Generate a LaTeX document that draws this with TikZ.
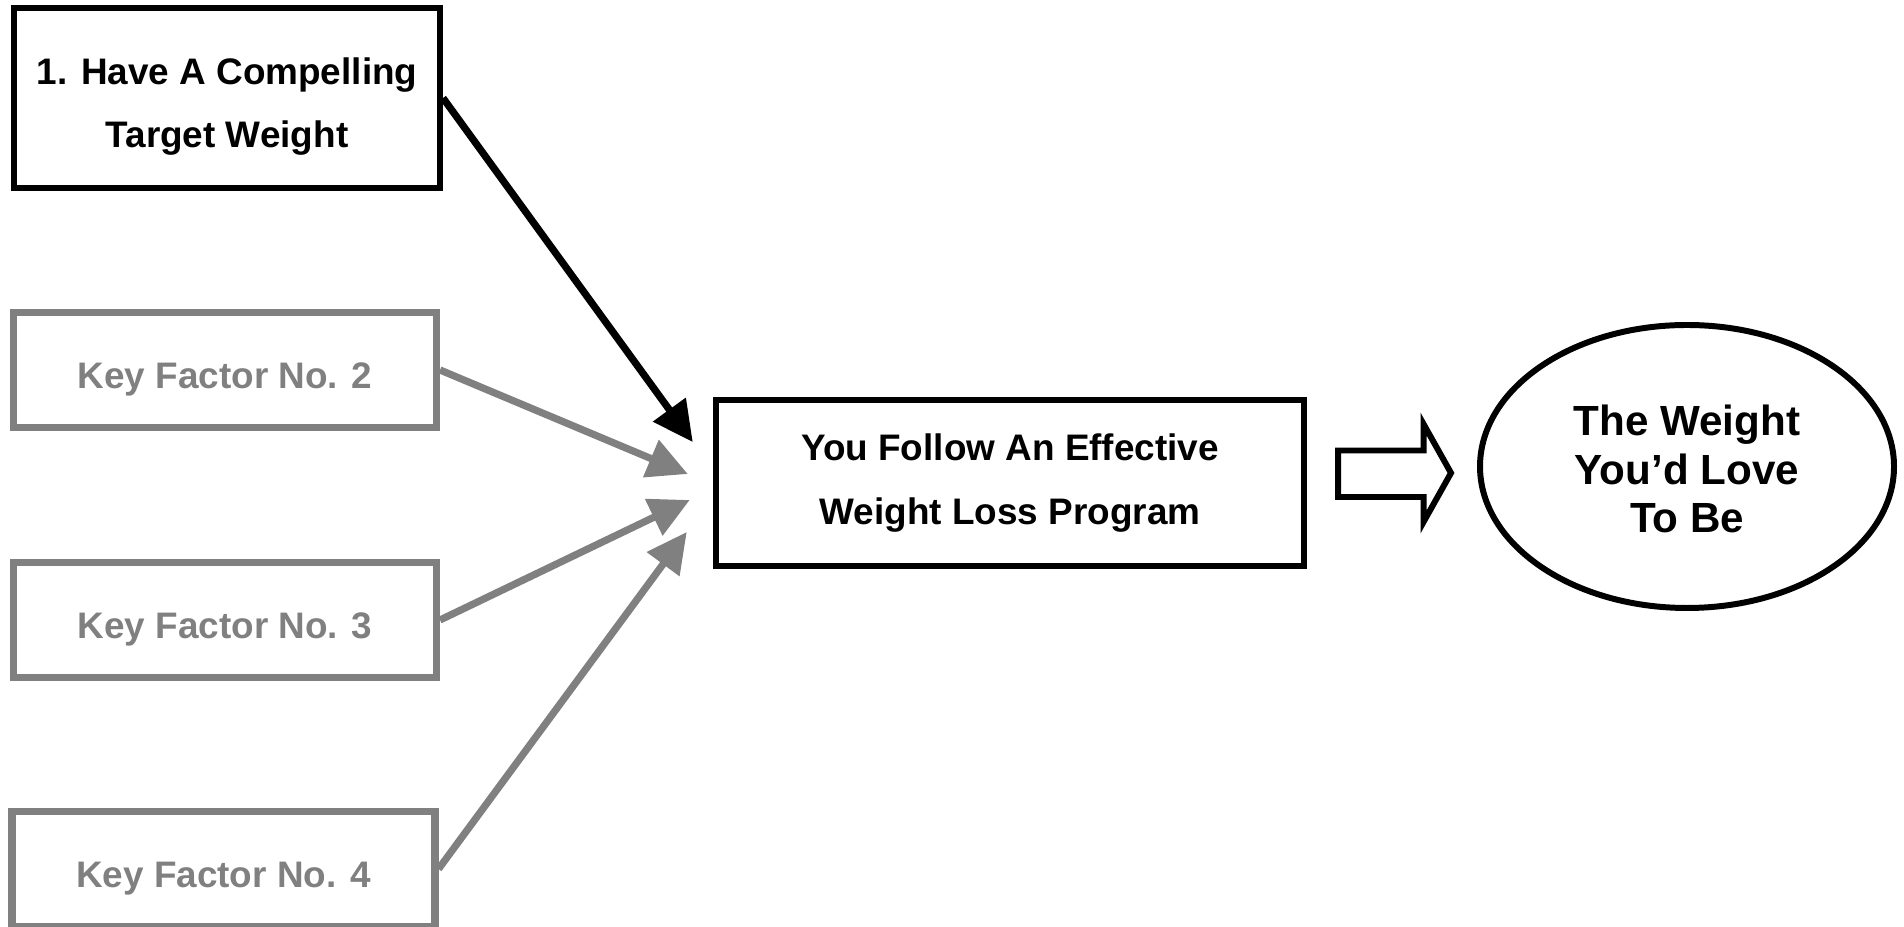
\documentclass[tikz,border=0pt]{standalone}
\usepackage{fontspec}
\setmainfont{Liberation Sans}
\usetikzlibrary{arrows.meta,shapes.geometric}

\begin{document}
\begin{tikzpicture}[
    keybox/.style={draw=black, line width=3.4pt, minimum width=8.52cm, minimum height=3.6cm, align=center, font=\fontsize{21}{36.4}\selectfont\bfseries},
    factorbox/.style={draw=gray, text=gray, line width=4pt, minimum width=8.46cm, minimum height=2.3cm, text height=20.5pt, text depth=0pt, font=\fontsize{21}{36.4}\selectfont\bfseries},
    goal/.style={ellipse, draw=black, line width=3.4pt, minimum width=8.28cm, minimum height=5.66cm, align=center, font=\fontsize{24}{27.7}\selectfont\bfseries},
    feed/.style={line width=4.1pt, -{Triangle[length=0.8cm, width=0.78cm]}}
]
    \useasboundingbox (0,0) rectangle (38.08,18.54);
    % the four key factors
    \node[keybox, text depth=0pt] (target) at (4.54,16.58) {\rule{0pt}{20.5pt}1. Have A Compelling\\Target Weight};
    \node[factorbox] (factor2) at (4.5,11.14) {Key Factor No. 2};
    \node[factorbox] (factor3) at (4.5,6.14) {Key Factor No. 3};
    \node[factorbox] (factor4) at (4.47,1.16) {Key Factor No. 4};
    % program and result
    \node[keybox, minimum width=11.75cm, minimum height=3.33cm] (program) at (20.2,8.88) {You Follow An Effective\\Weight Loss Program};
    \node[goal] (weight) at (33.74,9.21) {\rule{0pt}{20.5pt}The Weight\\You’d Love\\To Be};
    % arrow tips stop short of the program box
    \coordinate (tip1) at ([shift={(-0.41,0.82)}]program.west);
    \coordinate (tip2) at ([shift={(-0.51,0.18)}]program.west);
    \coordinate (tip3) at ([shift={(-0.47,-0.34)}]program.west);
    \coordinate (tip4) at ([shift={(-0.53,-0.98)}]program.west);
    \draw[feed, black] (target.east) -- (tip1);
    \draw[feed, gray] (factor2.east) -- (tip2);
    \draw[feed, gray] (factor3.east) -- (tip3);
    \draw[feed, gray] (factor4.east) -- (tip4);
    % hollow block arrow
    \draw[line width=3.4pt, line join=miter] (26.76,8.6) -- (28.47,8.6) -- (28.47,8.1) -- (29.02,9.08) -- (28.47,10.06) -- (28.47,9.53) -- (26.76,9.53) -- cycle;
\end{tikzpicture}
\end{document}
